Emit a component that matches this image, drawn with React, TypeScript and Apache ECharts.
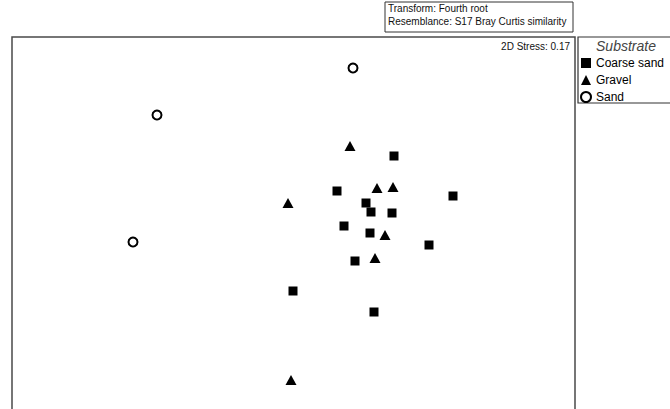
import React, { useEffect, useRef } from "react";
import * as echarts from "echarts";

// nMDS ordination coordinates (arbitrary units; y grows downward)
const coarseSandX = [382, 325, 354, 359, 380, 441, 332, 358, 417, 343, 281, 362];
const coarseSandY = [119, 154, 166, 175, 176, 159, 189, 196, 208, 224, 254, 275];
const gravelX = [338, 365, 381, 276, 373, 363, 279];
const gravelY = [109, 151, 150, 166, 198, 221, 343];
const sandX = [341, 145, 121];
const sandY = [31, 78, 205];

const seriesNames = ["Coarse sand", "Gravel", "Sand"];
const transformLines = ["Transform: Fourth root", "Resemblance: S17 Bray Curtis similarity"];
const stressLabel = "2D Stress: 0.17";
const legendTitle = "Substrate";

const zip = (xs: number[], ys: number[]) => xs.map((x, i) => [x, ys[i]]);

export default function App() {
  const ref = useRef<HTMLDivElement>(null);
  useEffect(() => {
    document.body.style.margin = "0";
    const chart = echarts.init(ref.current!, null, { renderer: "svg" });
    const font = "'Liberation Sans', Arial, sans-serif";
    chart.setOption({
      animation: false,
      backgroundColor: "#ffffff",
      textStyle: { fontFamily: font },
      grid: {
        show: false,
        left: 12,
        top: 37,
        width: 563,
        height: 372,
      },
      xAxis: { type: "value", min: 0, max: 563, show: false },
      yAxis: { type: "value", min: 0, max: 372, inverse: true, show: false },
      legend: {
        orient: "vertical",
        left: 580,
        top: 57,
        padding: 0,
        itemWidth: 10,
        itemHeight: 10,
        itemGap: 5,
        data: seriesNames,
        textStyle: { fontFamily: font, fontSize: 12, color: "#000", lineHeight: 12 },
      },
      series: [
        {
          name: seriesNames[0],
          type: "scatter",
          symbol: "rect",
          symbolSize: 9,
          itemStyle: { color: "#000", opacity: 1 },
          data: zip(coarseSandX, coarseSandY),
        },
        {
          name: seriesNames[1],
          type: "scatter",
          symbol: "triangle",
          symbolSize: [11, 10],
          itemStyle: { color: "#000", opacity: 1 },
          data: zip(gravelX, gravelY),
        },
        {
          name: seriesNames[2],
          type: "scatter",
          symbol: "circle",
          symbolSize: 9,
          itemStyle: { color: "#fff", borderColor: "#000", borderWidth: 2, opacity: 1 },
          data: zip(sandX, sandY),
        },
      ],
      graphic: [
        {
          type: "polyline",
          shape: { points: [[12, 412], [12, 37], [575, 37], [575, 412]] },
          style: { fill: "none", stroke: "#4a4a4a", lineWidth: 1.5 },
        },
        {
          type: "rect",
          shape: { x: 385, y: 2, width: 188, height: 30 },
          style: { fill: "#fff", stroke: "#333", lineWidth: 1 },
        },
        {
          type: "text",
          x: 388,
          y: 8,
          style: {
            text: transformLines[0],
            fontFamily: font,
            fontSize: 10,
            fill: "#111",
            verticalAlign: "middle",
          },
        },
        {
          type: "text",
          x: 388,
          y: 21,
          style: {
            text: transformLines[1],
            fontFamily: font,
            fontSize: 10,
            fill: "#111",
            verticalAlign: "middle",
          },
        },
        {
          type: "text",
          x: 570,
          y: 46,
          style: {
            text: stressLabel,
            fontFamily: font,
            fontSize: 10,
            fill: "#111",
            align: "right",
            verticalAlign: "middle",
          },
        },
        {
          type: "rect",
          shape: { x: 578, y: 37, width: 100, height: 66 },
          style: { fill: "none", stroke: "#333", lineWidth: 1.2 },
        },
        {
          type: "text",
          x: 626,
          y: 46,
          style: {
            text: legendTitle,
            fontFamily: font,
            fontSize: 14,
            fontStyle: "italic",
            fill: "#444",
            align: "center",
            verticalAlign: "middle",
          },
        },
      ],
    });
    return () => chart.dispose();
  }, []);
  return (
    <div
      ref={ref}
      style={{ position: "absolute", left: 0, top: 0, width: 670, height: 409 }}
    />
  );
}
